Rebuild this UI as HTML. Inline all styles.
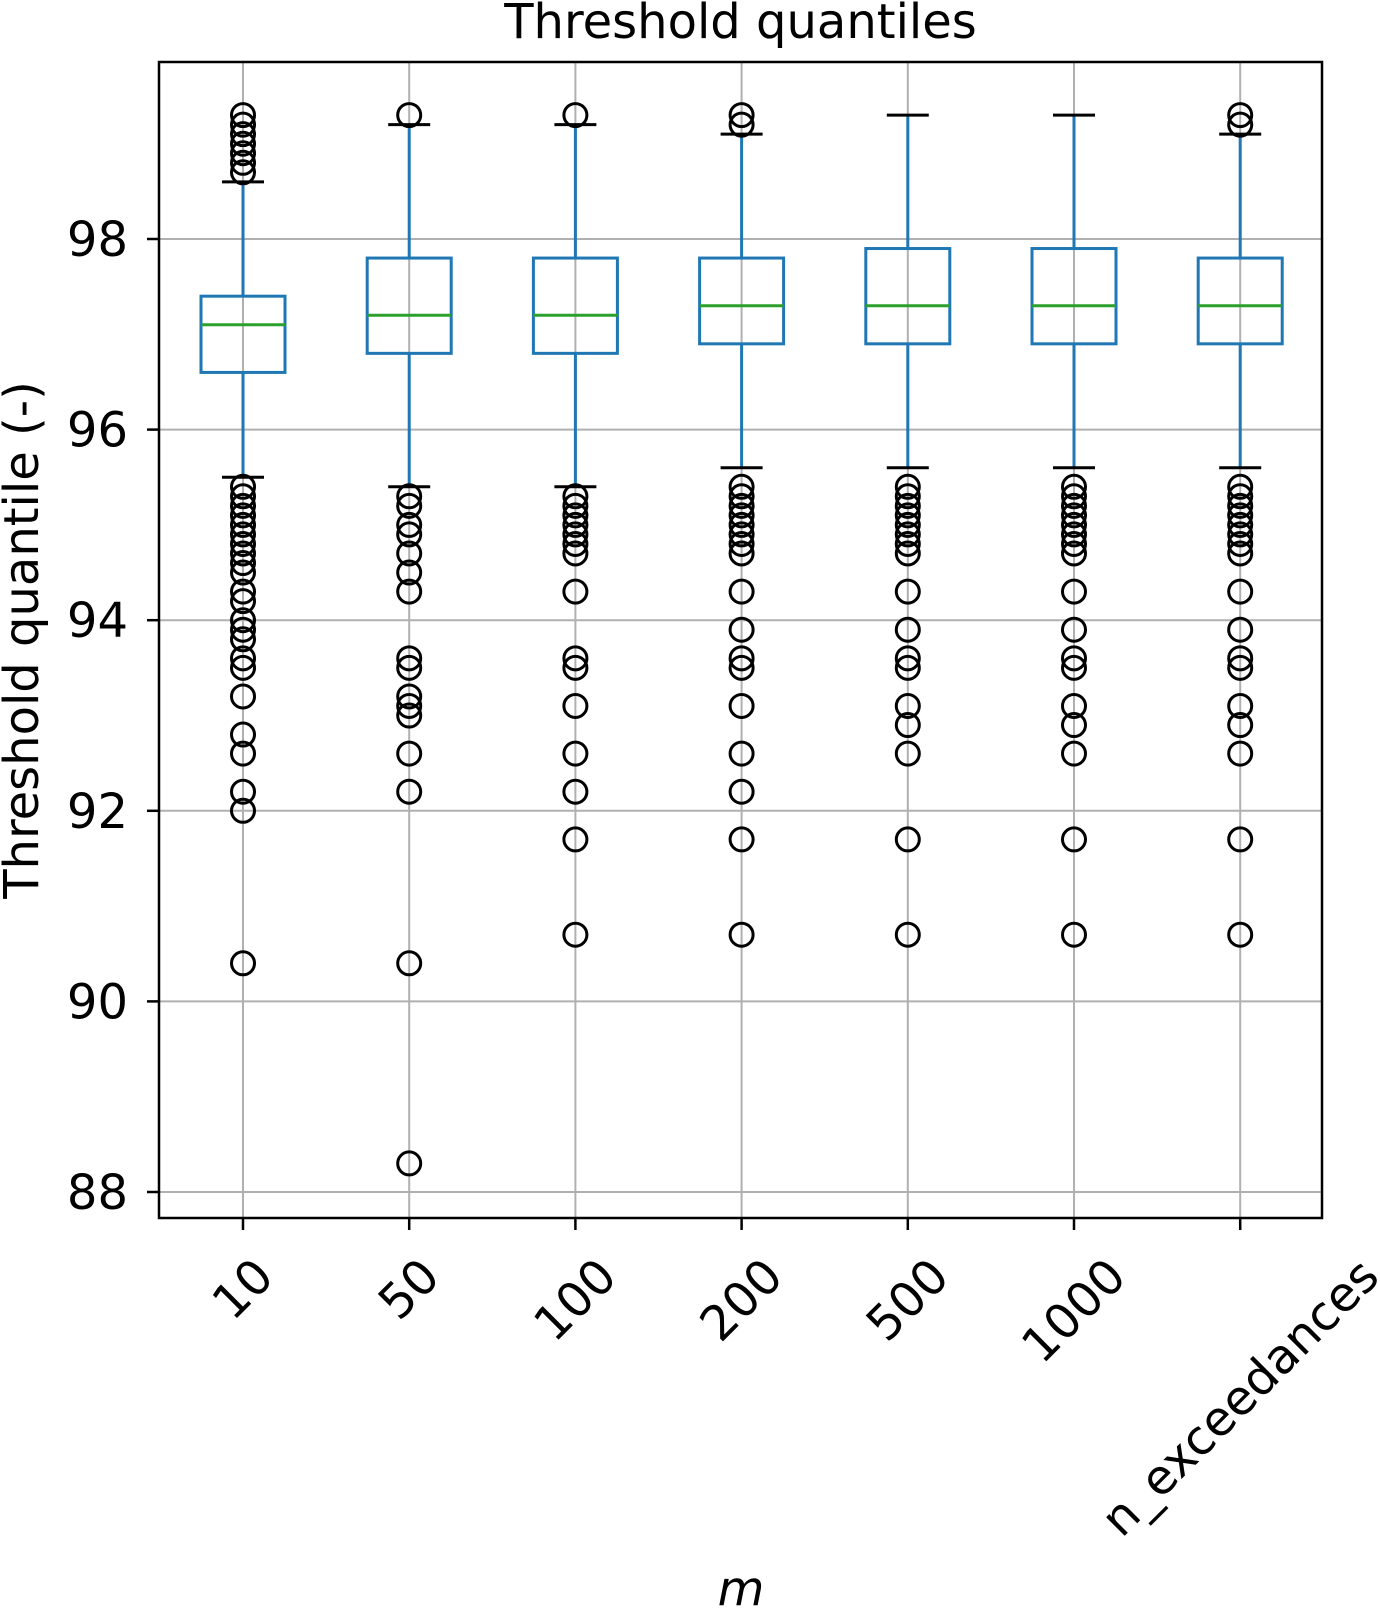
<!DOCTYPE html>
<html><head><meta charset="utf-8"><style>html,body{margin:0;padding:0;background:#fff}svg{display:block}</style></head>
<body>
<svg id="chart" width="1380" height="1608" xmlns="http://www.w3.org/2000/svg" font-family="'DejaVu Sans','Liberation Sans',sans-serif"></svg>
<script>
const categories = ["10","50","100","200","500","1000","n_exceedances"];
const q1 = [96.6,96.8,96.8,96.9,96.9,96.9,96.9];
const q3 = [97.4,97.8,97.8,97.8,97.9,97.9,97.8];
const medians = [97.1,97.2,97.2,97.3,97.3,97.3,97.3];
const whiskLow = [95.5,95.4,95.4,95.6,95.6,95.6,95.6];
const whiskHigh = [98.6,99.2,99.2,99.1,99.3,99.3,99.1];
const outliers = [
 [98.7,98.8,98.9,99.0,99.1,99.2,99.3,95.4,95.3,95.2,95.1,95.0,94.9,94.8,94.7,94.6,94.5,94.3,94.2,94.0,93.9,93.8,93.6,93.5,93.2,92.8,92.6,92.2,92.0,90.4],
 [99.3,95.3,95.2,95.0,94.9,94.7,94.5,94.3,93.6,93.5,93.2,93.1,93.0,92.6,92.2,90.4,88.3],
 [99.3,95.3,95.2,95.1,95.0,94.9,94.8,94.7,94.3,93.6,93.5,93.1,92.6,92.2,91.7,90.7],
 [99.2,99.3,95.4,95.3,95.2,95.1,95.0,94.9,94.8,94.7,94.3,93.9,93.6,93.5,93.1,92.6,92.2,91.7,90.7],
 [95.4,95.3,95.2,95.1,95.0,94.9,94.8,94.7,94.3,93.9,93.6,93.5,93.1,92.9,92.6,91.7,90.7],
 [95.4,95.3,95.2,95.1,95.0,94.9,94.8,94.7,94.3,93.9,93.6,93.5,93.1,92.9,92.6,91.7,90.7],
 [99.2,99.3,95.4,95.3,95.2,95.1,95.0,94.9,94.8,94.7,94.3,93.9,93.6,93.5,93.1,92.9,92.6,91.7,90.7]
];
const yTicks = [88,90,92,94,96,98];

const svg = document.getElementById('chart');
const NS = "http://www.w3.org/2000/svg";
const L=159,R=1322,T=62,B=1218;
const y = v => 239 + (98 - v) * 95.3;
const x = i => 243 + i * 166.2;
function mk(tag, attrs, parent){const e=document.createElementNS(NS,tag);for(const k in attrs)e.setAttribute(k,attrs[k]);(parent||svg).appendChild(e);return e;}

const grid = mk('g',{});


yTicks.forEach(t=>{mk('line',{x1:L,x2:R,y1:y(t),y2:y(t),stroke:'#b0b0b0','stroke-width':2},grid);});
categories.forEach((c,i)=>{mk('line',{x1:x(i),x2:x(i),y1:T,y2:B,stroke:'#b0b0b0','stroke-width':2},grid);});

categories.forEach((c,i)=>{
  const g = mk('g',{});
  
  
  const cx=x(i), hw=42, cw=21;
  mk('line',{x1:cx,x2:cx,y1:y(q1[i]),y2:y(whiskLow[i]),stroke:'#1f77b4','stroke-width':3},g);
  mk('line',{x1:cx,x2:cx,y1:y(q3[i]),y2:y(whiskHigh[i]),stroke:'#1f77b4','stroke-width':3},g);
  mk('line',{x1:cx-cw,x2:cx+cw,y1:y(whiskLow[i]),y2:y(whiskLow[i]),stroke:'#000','stroke-width':3},g);
  mk('line',{x1:cx-cw,x2:cx+cw,y1:y(whiskHigh[i]),y2:y(whiskHigh[i]),stroke:'#000','stroke-width':3},g);
  mk('rect',{x:cx-hw,y:y(q3[i]),width:2*hw,height:y(q1[i])-y(q3[i]),fill:'none',stroke:'#1f77b4','stroke-width':3},g);
  mk('line',{x1:cx-hw,x2:cx+hw,y1:y(medians[i]),y2:y(medians[i]),stroke:'#2ca02c','stroke-width':3},g);
  outliers[i].forEach(v=>{
    const o=mk('circle',{cx:cx,cy:y(v),r:11.5,fill:'none',stroke:'#000','stroke-width':3},g);
    
    
  });
  mk('line',{x1:cx,x2:cx,y1:B,y2:B+12,stroke:'#000','stroke-width':2.5},g);
  const tl=mk('text',{x:0,y:0,'font-size':48,'text-anchor':'middle',transform:`translate(${cx},${B+100}) rotate(-45)`},g);
  
  
  tl.textContent=c;
  const r=tl.getBoundingClientRect();
  const dx=cx-(r.left+r.right)/2, dy=(B+30)-r.top;
  tl.setAttribute('transform',`translate(${cx+dx},${B+100+dy}) rotate(-45)`);
});

yTicks.forEach(t=>{
  mk('line',{x1:L-12,x2:L,y1:y(t),y2:y(t),stroke:'#000','stroke-width':2.5});
  const tl=mk('text',{x:L-31,y:y(t)+17,'font-size':48,'text-anchor':'end'});
  
  
  tl.textContent=t;
});

const frame=mk('rect',{x:L,y:T,width:R-L,height:B-T,fill:'none',stroke:'#000','stroke-width':2.5});



const title=mk('text',{x:(L+R)/2,y:38,'font-size':48,'text-anchor':'middle'});


title.textContent='Threshold quantiles';

const yl=mk('text',{x:0,y:0,'font-size':48,'text-anchor':'middle',transform:`translate(38,${(T+B)/2}) rotate(-90)`});


yl.textContent='Threshold quantile (-)';

const xl=mk('text',{x:741,y:1605,'font-size':48,'text-anchor':'middle','font-style':'italic'});


xl.textContent='m';
</script>
</body></html>
